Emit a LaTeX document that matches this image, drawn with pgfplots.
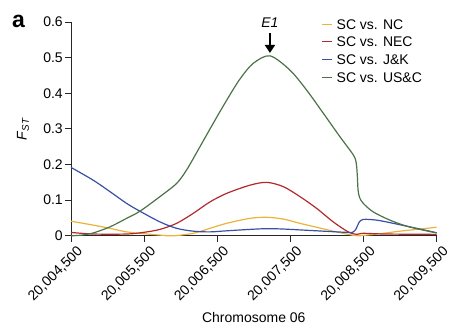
\documentclass[border=0pt]{standalone}
\usepackage{pgfplots}
\pgfplotsset{compat=1.18}
\usepackage{pgfplotstable}
\usepackage{fontspec}
\setmainfont{Liberation Sans}
\usetikzlibrary{arrows.meta}
\definecolor{cNC}{HTML}{E8B43A}
\definecolor{cNEC}{HTML}{B22A2E}
\definecolor{cJK}{HTML}{3A50A5}
\definecolor{cUS}{HTML}{4B7346}
\pgfplotstableread{
x y
4500 0.041
4805 0.030
5033 0.021
5261 0.011
5489 0.006
5717 0.002
5899 0.0
6172 0.007
6400 0.021
6628 0.035
6947 0.049
7176 0.052
7403 0.047
7631 0.035
7859 0.024
8086 0.013
8291 0.004
8420 0.0
8543 0.002
8771 0.007
8998 0.013
9226 0.018
9500 0.024
}\tNC
\pgfplotstableread{
x y
4500 0.0095
4805 0.005
5261 0.005
5489 0.0095
5717 0.018
5945 0.035
6172 0.063
6400 0.095
6628 0.119
6947 0.142
7176 0.150
7403 0.138
7631 0.110
7859 0.077
8086 0.039
8291 0.011
8406 0.004
8497 0.007
8800 0.005
9500 0.004
}\tNEC
\pgfplotstableread{
x y
4500 0.192
4805 0.156
5033 0.124
5261 0.091
5443 0.069
5717 0.039
5945 0.021
6172 0.013
6400 0.011
6628 0.014
6947 0.018
7176 0.020
7403 0.019
7859 0.014
8291 0.0095
8360 0.011
8400 0.020
8440 0.038
8497 0.046
8679 0.044
8907 0.035
9226 0.021
9500 0.0085
}\tJK
\pgfplotstableread{
x y
4500 0
4650 0.002
4805 0.008
5033 0.025
5261 0.049
5443 0.069
5717 0.110
5945 0.147
6082 0.185
6264 0.250
6446 0.316
6628 0.380
6811 0.440
6993 0.484
7221 0.505
7494 0.465
7722 0.409
7950 0.344
8178 0.278
8360 0.227
8400 0.205
8415 0.170
8425 0.130
8445 0.108
8497 0.091
8633 0.067
8861 0.044
9090 0.027
9317 0.016
9500 0.008
}\tUS
\begin{document}
\begin{tikzpicture}
\begin{axis}[
  scale only axis, width=366pt, height=214pt,
  xmin=4500, xmax=9500, ymin=0, ymax=0.6,
  axis lines*=left,
  axis line style={black!85, line width=0.8pt},
  tick style={black!85, line width=0.8pt},
  tick align=outside, major tick length=6pt,
  xtick={4500,5500,6500,7500,8500,9500},
  xticklabels={{20,004,500},{20,005,500},{20,006,500},{20,007,500},{20,008,500},{20,009,500}},
  xticklabel style={xshift=11pt, yshift=-6pt, rotate=45, anchor=east, inner sep=2pt, font=\fontsize{14}{16}\selectfont},
  ytick={0,0.1,0.2,0.3,0.4,0.5,0.6},
  yticklabels={0,0.1,0.2,0.3,0.4,0.5,0.6},
  yticklabel style={inner sep=2pt, font=\fontsize{14}{16}\selectfont},
  /pgf/number format/assume math mode=true,
  xlabel={Chromosome 06},
  xlabel style={at={(axis description cs:0.5,-0.383)}, anchor=center, font=\fontsize{14}{16}\selectfont},
  ylabel={\textit{F}\textsubscript{\textit{ST}}},
  ylabel style={at={(axis description cs:-0.131,0.5)}, anchor=center, font=\fontsize{14}{16}\selectfont},
  clip=false,
  legend style={at={(0.685,1.032)}, anchor=north west, draw=none, fill=none,
    font=\fontsize{14}{16}\selectfont, row sep=0pt, inner sep=0pt,
    nodes={inner sep=3.85pt, text height=10pt, text depth=0pt}},
  legend cell align=left,
  legend image code/.code={\draw[#1, line width=1.2pt] (0pt,0pt) -- (10pt,0pt);},
]
\addplot[cNC, line width=1.2pt, smooth] table[x=x,y=y] {\tNC};
\addlegendentry{SC vs. NC}
\addplot[cNEC, line width=1.2pt, smooth] table[x=x,y=y] {\tNEC};
\addlegendentry{SC vs. NEC}
\addplot[cJK, line width=1.2pt, smooth] table[x=x,y=y] {\tJK};
\addlegendentry{SC vs. J\&K}
\addplot[cUS, line width=1.2pt, smooth] table[x=x,y=y] {\tUS};
\addlegendentry{SC vs. US\&C}
\node[font=\fontsize{14}{16}\selectfont\itshape] at (axis cs:7221,0.599) {E1};
\draw[-{Triangle[length=8pt,width=10pt]}, line width=1.6pt, black] (axis cs:7221,0.569) -- (axis cs:7221,0.513);
\node[font=\fontsize{23}{25}\selectfont\bfseries] at ([xshift=-52.5pt,yshift=1pt]rel axis cs:0,1) {a};
\path ([xshift=-71pt,yshift=-97pt]rel axis cs:0,0) -- ([xshift=16pt,yshift=22pt]rel axis cs:1,1);
\end{axis}
\end{tikzpicture}
\end{document}
